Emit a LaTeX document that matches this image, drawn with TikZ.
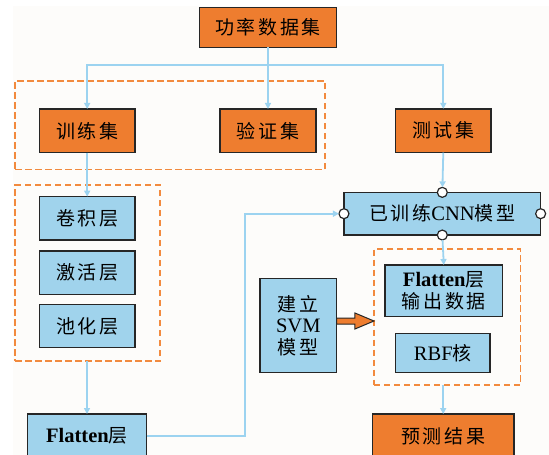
\documentclass[tikz,border=0pt]{standalone}
\usepackage{fontspec}
\setmainfont{Liberation Serif}
\newfontfamily\cjk[LetterSpace=14]{Noto Sans CJK SC}
\newcommand\lt{\fontsize{20.5}{21.5}\selectfont}
\usetikzlibrary{arrows.meta,calc}
\definecolor{ofill}{HTML}{EE7D2F}
\definecolor{bfill}{HTML}{A0D3EC}
\definecolor{lblue}{HTML}{9CD3F0}
\definecolor{dorange}{HTML}{F28A3E}
\definecolor{bgc}{HTML}{FDFCFA}
\begin{document}
\begin{tikzpicture}[x=1pt,y=-1pt,
  box/.style={draw=black!85,line width=1.4pt,inner sep=0pt,outer sep=0pt,font=\fontsize{19}{21.5}\selectfont,align=center},
  obox/.style={box,fill=ofill},
  bbox/.style={box,fill=bfill},
  dbox/.style={draw=dorange,line width=1.6pt,dash pattern=on 6.5pt off 3.5pt,inner sep=0pt,outer sep=0pt},
  conn/.style={draw=lblue,line width=1.8pt,-{Triangle[width=6pt,length=6pt]}},
  plain/.style={draw=lblue,line width=1.8pt},
  port/.style={circle,draw=black!85,fill=white,line width=1.2pt,minimum size=10pt,inner sep=0pt,outer sep=0pt},
  fatarrow/.style={fill=ofill,draw=black!85,line width=1pt,line join=miter},
]
\useasboundingbox (0,0) rectangle (549,455);
\clip (0,0) rectangle (549,455);
\fill[bgc] (13,6) rectangle (549,455);

% dashed groups
\node[dbox,minimum width=310pt,minimum height=88.6pt] (d1) at (170,125) {};
\node[dbox,minimum width=145pt,minimum height=176pt] (d2) at (87.5,273) {};
\node[dbox,minimum width=146.7pt,minimum height=136pt] (d3) at (447.3,317) {};

% boxes
\node[obox,minimum width=136.7pt,minimum height=40pt] (pow) at (268,27.3) {\cjk 功率数据集};
\node[obox,minimum width=95.7pt,minimum height=43.7pt] (train) at (87.2,130.8) {\cjk 训练集};
\node[obox,minimum width=95.7pt,minimum height=43.7pt] (val) at (268,130.8) {\cjk 验证集};
\node[obox,minimum width=95.3pt,minimum height=43.7pt] (test) at (443.3,130.7) {\cjk 测试集};

\node[bbox,minimum width=95.7pt,minimum height=43.3pt] (conv) at (87.2,218.3) {\cjk 卷积层};
\node[bbox,minimum width=95.7pt,minimum height=43.3pt] (act) at (87.2,272.7) {\cjk 激活层};
\node[bbox,minimum width=95.7pt,minimum height=43.3pt] (pool) at (87.2,326) {\cjk 池化层};
\node[bbox,minimum width=119.4pt,minimum height=44pt] (flat) at (87,436) {{\lt\bfseries Flatten}{\cjk 层}};

\node[bbox,minimum width=196.7pt,minimum height=42.7pt] (cnn) at (442.3,213.7) {{\cjk 已训练}{\lt CNN}{\cjk 模型}};
\node[bbox,minimum width=76.7pt,minimum height=94pt] (svm) at (298.3,325.3) {{\cjk 建立}\\{\lt SVM}\\{\cjk 模型}};
\node[bbox,minimum width=117.7pt,minimum height=51.7pt] (fo) at (443.8,290.8) {{\lt\bfseries Flatten}{\cjk 层}\\{\cjk 输出数据}};
\node[bbox,minimum width=94.3pt,minimum height=39.4pt] (rbf) at (442.8,353) {{\lt RBF}{\cjk 核}};
\node[obox,minimum width=141.7pt,minimum height=44pt] (pred) at (443.2,436) {\cjk 预测结果};

% ports on CNN model
\node[port] (ct) at (cnn.north) {};
\node[port] (cb) at (cnn.south) {};
\node[port] (cl) at (cnn.west) {};
\node[port] (cr) at (cnn.east) {};

% connectors
\coordinate (hub) at (268,65);
\draw[plain] (pow.south) -- (hub);
\draw[conn] (hub) -| (train.north);
\draw[conn] (hub) -- (val.north);
\draw[conn] (hub) -| (test.north);
\draw[conn] (train.south) -- (conv.north);
\draw[conn] (d2.south -| flat.north) -- (flat.north);
\draw[conn] (test.south) -- (ct);
\draw[conn] (flat.east) -- ++(98.3,0) |- (cl);
\draw[conn] (cb) -- (fo.north);
\draw[conn] (d3.south -| pred.north) -- (pred.north);

% fat orange arrow
\coordinate (a0) at ($(svm.east)+(0,-4.3)$);
\draw[fatarrow] (a0) ++(0,-3) -- ++(18.3,0) -- ++(0,-5) -- ++(19,8) -- ++(-19,8) -- ++(0,-5) -- ++(-18.3,0) -- cycle;
\end{tikzpicture}
\end{document}
